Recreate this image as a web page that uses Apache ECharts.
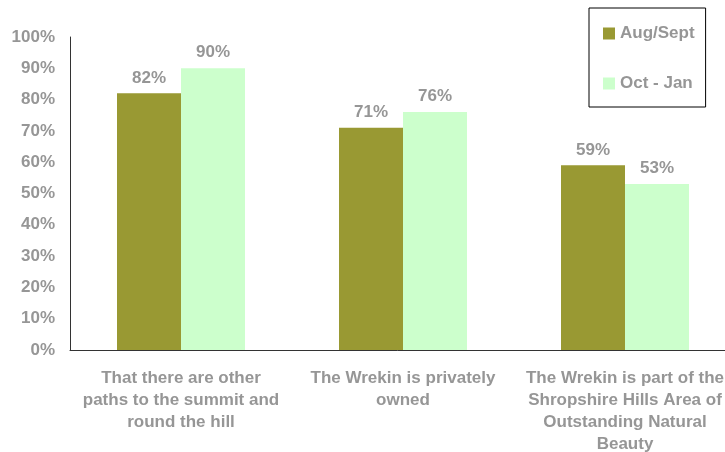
<!DOCTYPE html>
<html>
<head>
<meta charset="utf-8">
<script src="https://cdn.jsdelivr.net/npm/echarts@6/dist/echarts.min.js"></script>
<style>html,body{margin:0;padding:0;background:#fff;overflow:hidden;}#c{width:725px;height:452px;}</style>
</head>
<body>
<div id="c"></div>
<script>
var categories = [
  "That there are other\npaths to the summit and\nround the hill",
  "The Wrekin is privately\nowned",
  "The Wrekin is part of the\nShropshire Hills Area of\nOutstanding Natural\nBeauty"
];
var seriesNames = ["Aug/Sept", "Oct - Jan"];
var augSept = [82, 71, 59];
var octJan = [90, 76, 53];

var chart = echarts.init(document.getElementById('c'), null, {renderer: 'canvas'});
var txt = '#969696';
var font = '"Liberation Sans", Arial, sans-serif';
var fs = 17;
chart.setOption({
  animation: false,
  backgroundColor: '#fff',
  textStyle: {fontFamily: font},
  grid: {left: 70, top: 37, width: 666, height: 313, containLabel: false, outerBoundsMode: 'none'},
  legend: {
    orient: 'vertical',
    left: 589, top: 8,
    padding: [17, 11, 15, 14],
    borderColor: '#000', borderWidth: 1,
    itemWidth: 12, itemHeight: 12, itemGap: 33,
    icon: 'rect',
    textStyle: {color: txt, fontSize: fs, fontWeight: 'bold', fontFamily: font},
    data: seriesNames
  },
  xAxis: {
    type: 'category',
    data: categories,
    axisLine: {lineStyle: {color: '#333', width: 1}},
    axisTick: {show: false},
    axisLabel: {color: txt, fontSize: fs, fontWeight: 'bold', fontFamily: font, lineHeight: 22, margin: 17, interval: 0, hideOverlap: false}
  },
  yAxis: {
    type: 'value', min: 0, max: 100, interval: 10,
    axisLine: {show: true, lineStyle: {color: '#333', width: 1}},
    axisTick: {show: false},
    splitLine: {show: false},
    axisLabel: {color: txt, fontSize: fs, fontWeight: 'bold', fontFamily: font, margin: 15, formatter: '{value}%'}
  },
  series: [
    {name: seriesNames[0], type: 'bar', data: augSept, barWidth: 64, barGap: '0%',
     itemStyle: {color: '#999933'},
     label: {show: true, position: 'top', distance: 7, color: txt, fontSize: fs, fontWeight: 'bold', fontFamily: font, formatter: '{c}%'}},
    {name: seriesNames[1], type: 'bar', data: octJan, barWidth: 64, barGap: '0%',
     itemStyle: {color: '#CCFFCC'},
     label: {show: true, position: 'top', distance: 7, color: txt, fontSize: fs, fontWeight: 'bold', fontFamily: font, formatter: '{c}%'}}
  ]
});
</script>
</body>
</html>
